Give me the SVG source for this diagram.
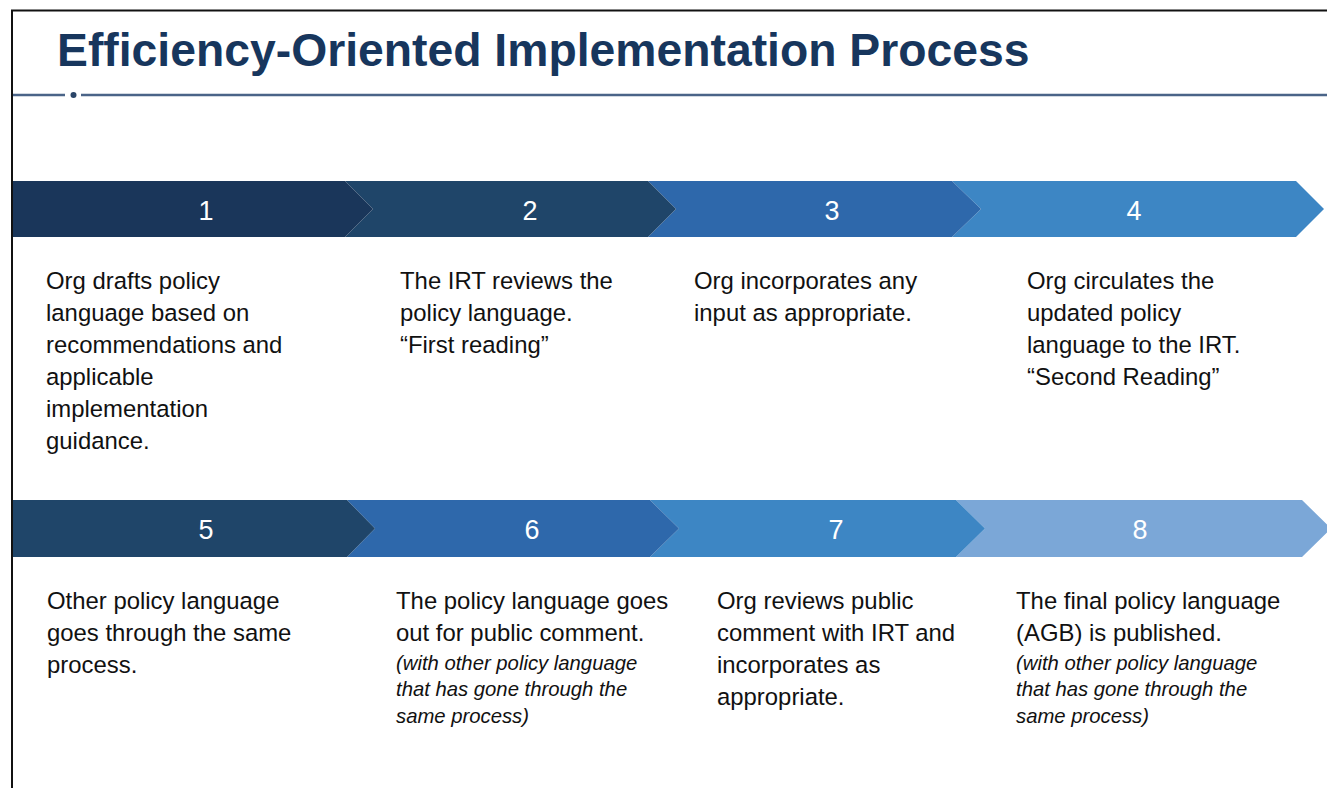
<svg xmlns="http://www.w3.org/2000/svg" width="1327" height="788" viewBox="0 0 1327 788">
<style>
.title{font-family:"Liberation Sans",Arial,sans-serif;font-weight:bold;font-size:46.3px;fill:#17365d}
.num{font-family:"Liberation Sans",Arial,sans-serif;font-size:27px;fill:#ffffff;text-anchor:middle}
.body{font-family:"Liberation Sans",Arial,sans-serif;font-size:23.9px;fill:#111111}
.note{font-family:"Liberation Sans",Arial,sans-serif;font-size:20.3px;font-style:italic;fill:#111111}
.c1{fill:#1a365a}.c2{fill:#1f4569}.c3{fill:#2e68ab}.c4{fill:#3d86c4}.c8{fill:#7ba7d7}
</style>
<rect x="0" y="0" width="1327" height="788" fill="#ffffff"/>
<g id="frame">
<line x1="11" y1="10.5" x2="1327" y2="10.5" stroke="#111" stroke-width="2"/>
<line x1="12" y1="10" x2="12" y2="788" stroke="#111" stroke-width="2"/>
</g>
<g id="header">
<text class="title" x="57" y="66">Efficiency-Oriented Implementation Process</text>
<line x1="13" y1="95" x2="65" y2="95" stroke="#4a6488" stroke-width="2.4"/>
<circle cx="73.5" cy="95" r="3" fill="#2a4568"/>
<line x1="81" y1="95" x2="1327" y2="95" stroke="#4a6488" stroke-width="2.4"/>
</g>
<g id="step4"><polygon class="c4" points="952,181 1296,181 1324,209 1296,237 952,237 981,209"/><text class="num" x="1134" y="220">4</text></g>
<g id="step3"><polygon class="c3" points="648,181 952,181 981,209 952,237 648,237 676,209"/><text class="num" x="832" y="220">3</text></g>
<g id="step2"><polygon class="c2" points="345,181 648,181 676,209 648,237 345,237 373,209"/><text class="num" x="530" y="220">2</text></g>
<g id="step1"><polygon class="c1" points="13,181 345,181 373,209 345,237 13,237"/><text class="num" x="206" y="220">1</text></g>
<g id="step8"><polygon class="c8" points="956,500 1302,500 1331,528.5 1302,557 956,557 985,528.5"/><text class="num" x="1140" y="539">8</text></g>
<g id="step7"><polygon class="c4" points="650,500 956,500 985,528.5 956,557 650,557 679,528.5"/><text class="num" x="836" y="539">7</text></g>
<g id="step6"><polygon class="c3" points="347,500 650,500 679,528.5 650,557 347,557 375,528.5"/><text class="num" x="532" y="539">6</text></g>
<g id="step5"><polygon class="c2" points="13,500 347,500 375,528.5 347,557 13,557"/><text class="num" x="206" y="539">5</text></g>
<g id="desc1">
<text class="body" x="46" y="289">Org drafts policy</text>
<text class="body" x="46" y="321">language based on</text>
<text class="body" x="46" y="353">recommendations and</text>
<text class="body" x="46" y="385">applicable</text>
<text class="body" x="46" y="417">implementation</text>
<text class="body" x="46" y="449">guidance.</text>
</g>
<g id="desc2">
<text class="body" x="400" y="289">The IRT reviews the</text>
<text class="body" x="400" y="321">policy language.</text>
<text class="body" x="400" y="353">“First reading”</text>
</g>
<g id="desc3">
<text class="body" x="694" y="289">Org incorporates any</text>
<text class="body" x="694" y="321">input as appropriate.</text>
</g>
<g id="desc4">
<text class="body" x="1027" y="289">Org circulates the</text>
<text class="body" x="1027" y="321">updated policy</text>
<text class="body" x="1027" y="353">language to the IRT.</text>
<text class="body" x="1027" y="385">“Second Reading”</text>
</g>
<g id="desc5">
<text class="body" x="47" y="609">Other policy language</text>
<text class="body" x="47" y="641">goes through the same</text>
<text class="body" x="47" y="673">process.</text>
</g>
<g id="desc6">
<text class="body" x="396" y="609">The policy language goes</text>
<text class="body" x="396" y="641">out for public comment.</text>
<text class="note" x="396" y="670">(with other policy language</text>
<text class="note" x="396" y="696">that has gone through the</text>
<text class="note" x="396" y="723">same process)</text>
</g>
<g id="desc7">
<text class="body" x="717" y="609">Org reviews public</text>
<text class="body" x="717" y="641">comment with IRT and</text>
<text class="body" x="717" y="673">incorporates as</text>
<text class="body" x="717" y="705">appropriate.</text>
</g>
<g id="desc8">
<text class="body" x="1016" y="609">The final policy language</text>
<text class="body" x="1016" y="641">(AGB) is published.</text>
<text class="note" x="1016" y="670">(with other policy language</text>
<text class="note" x="1016" y="696">that has gone through the</text>
<text class="note" x="1016" y="723">same process)</text>
</g>
<g id="connectors"></g>
</svg>
